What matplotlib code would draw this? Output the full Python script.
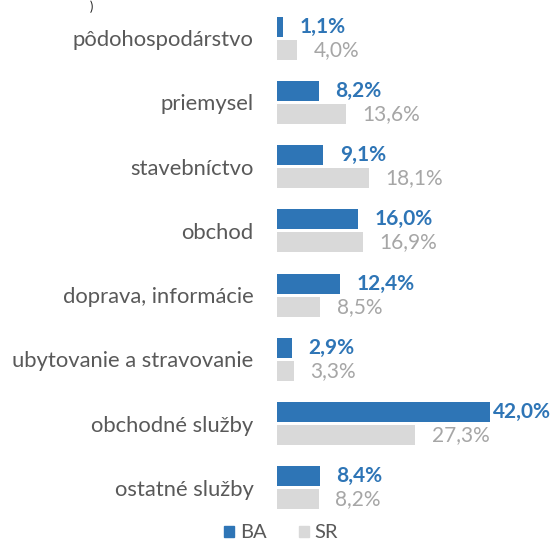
import matplotlib
matplotlib.use("Agg")
import matplotlib.pyplot as plt
from matplotlib.patches import Patch

categories = ["pôdohospodárstvo", "priemysel", "stavebníctvo", "obchod",
              "doprava, informácie", "ubytovanie a stravovanie",
              "obchodné služby", "ostatné služby"]
ba_values = [1.1, 8.2, 9.1, 16.0, 12.4, 2.9, 42.0, 8.4]
sr_values = [4.0, 13.6, 18.1, 16.9, 8.5, 3.3, 27.3, 8.2]
series_names = ["BA", "SR"]

BLUE = "#2E75B6"
GREY = "#D9D9D9"
GREY_TXT = "#A6A6A6"
LABEL = "#595959"

plt.rcParams['font.family'] = ['Lato', 'DejaVu Sans']

fig = plt.figure(figsize=(5.53, 5.43), dpi=100)
ax = fig.add_axes([277/553, 1-520/543, 276/553, 514/543])

y = list(range(len(categories)))
h = 0.31
off = 0.18
ax.barh([v - off for v in y], ba_values, height=h, color=BLUE)
ax.barh([v + off for v in y], sr_values, height=h, color=GREY)

ax.set_xlim(0, 276/5.07)
ax.set_ylim(len(categories) - 0.5, -0.5)
ax.set_yticks(y)
ax.set_yticklabels(categories, fontsize=15.8, color=LABEL)
ax.tick_params(axis='y', length=0, pad=17)
ax.set_xticks([])
for s in ax.spines.values():
    s.set_visible(False)

def fmt(v):
    return f"{v:.1f}%".replace(".", ",")

texts = []
for i, v in enumerate(ba_values):
    t = ax.annotate(fmt(v), (v, i - off), xytext=(12, 0), textcoords='offset points',
                    ha='left', va='center', fontsize=15, fontweight='bold', color=BLUE)
    texts.append(t)
for i, v in enumerate(sr_values):
    t = ax.annotate(fmt(v), (v, i + off), xytext=(12, 0), textcoords='offset points',
                    ha='left', va='center', fontsize=15, color=GREY_TXT)
    texts.append(t)

fig.canvas.draw()
r = fig.canvas.get_renderer()
W = fig.bbox.width
for t in texts:
    bb = t.get_window_extent(r)
    if bb.x1 > W - 2:
        shift = (bb.x1 - (W - 2)) * 72 / fig.dpi
        x0, y0 = t.xyann
        t.xyann = (x0 - shift, y0)

handles = [Patch(color=BLUE), Patch(color=GREY)]
fig.legend(handles, series_names, loc='center', bbox_to_anchor=(281/553, 1-533/543),
           ncol=2, frameon=False, fontsize=14.5, handlelength=0.5, handleheight=0.5,
           handletextpad=0.3, columnspacing=1.6, labelcolor=LABEL)

fig.text(90/553, 1.0, ")", fontsize=9, color="#222222", va='top')

fig.savefig("out.png", dpi=100)
